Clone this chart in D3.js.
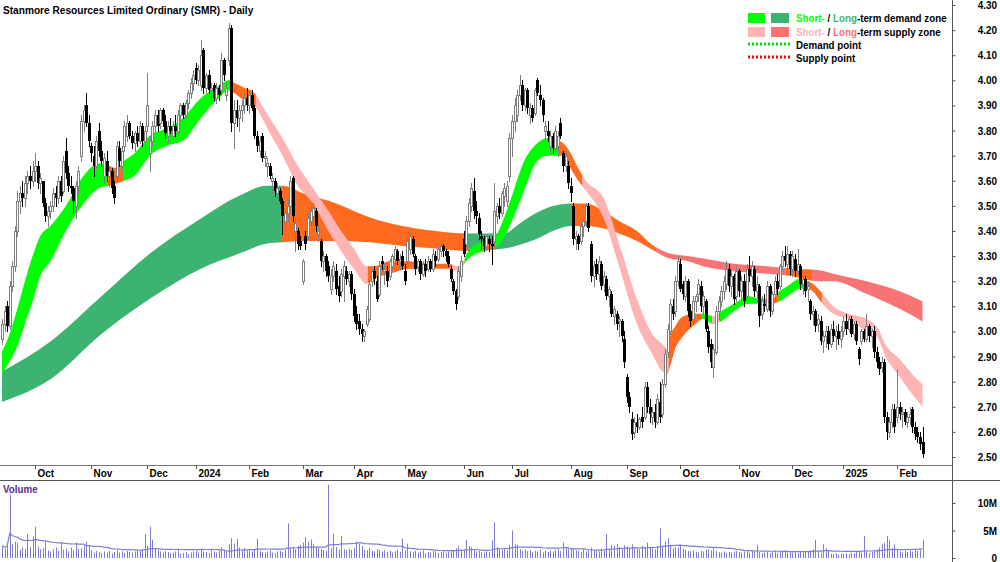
<!DOCTYPE html>
<html><head><meta charset="utf-8">
<script src="https://cdn.jsdelivr.net/npm/d3@7"></script>
<style>
html,body{margin:0;padding:0;background:#fff;}
svg{display:block;font-family:"Liberation Sans",Arial,Helvetica,sans-serif;}
</style></head><body>
<svg id="chart" width="1000" height="562"></svg>
<script>
// ---------------- data ----------------
const title = "Stanmore Resources Limited Ordinary (SMR) - Daily";
const firstDay = "2023-09-13", lastDay = "2025-02-17";
const holidays = ["2023-12-25","2023-12-26","2024-01-01","2024-01-26","2024-03-29","2024-04-01","2024-04-25","2024-06-10","2024-12-25","2024-12-26","2025-01-01","2025-01-27"];
const monthLabels = ["Oct","Nov","Dec","2024","Feb","Mar","Apr","May","Jun","Jul","Aug","Sep","Oct","Nov","Dec","2025","Feb"];
const priceTicks = [2.5,2.6,2.7,2.8,2.9,3.0,3.1,3.2,3.3,3.4,3.5,3.6,3.7,3.8,3.9,4.0,4.1,4.2,4.3];
const volumeTicks = [0,5,10];
const volumeTickLabels = ["0","5M","10M"];
const legendRows = [
  [["Short-","stDemand"],[" / ","text"],["Long","ltDemand"],["-term demand zone","text"]],
  [["Short-","stSupply"],[" / ","text"],["Long","ltSupplyText"],["-term supply zone","text"]],
  [["Demand point","text"]],
  [["Supply point","text"]]
];

const opens = [
2.97,3.03,3.10,3.02,3.18,3.26,3.40,3.52,3.55,3.53,3.59,3.62,3.60,
3.64,3.66,3.59,3.60,3.51,3.46,3.48,3.50,3.55,3.53,3.60,3.56,3.72,3.63,3.58,3.57,3.50,3.58,3.70,3.84,3.90,3.83,
3.74,3.70,3.66,3.80,3.72,3.62,3.68,3.62,3.64,3.58,3.62,3.73,3.66,3.74,3.78,3.83,3.78,3.75,3.79,3.76,3.82,3.76,
3.82,3.71,3.76,3.82,3.86,3.83,3.88,3.84,3.78,3.82,3.78,3.82,3.80,3.86,3.90,3.86,3.91,3.95,3.99,
4.05,4.00,3.98,4.12,3.97,4.02,3.96,3.98,3.93,3.97,3.96,4.08,3.94,4.08,4.21,3.83,3.88,3.85,3.88,3.90,3.93,
3.90,3.94,3.89,3.78,3.72,3.78,3.69,3.66,3.66,3.60,3.60,3.55,3.56,3.52,3.44,3.47,3.50,3.61,3.40,3.40,3.36,
3.20,3.38,3.38,3.44,3.46,3.48,3.39,3.36,3.28,3.30,3.26,3.17,3.22,3.24,3.18,3.16,3.22,3.24,3.20,3.23,
3.15,3.07,3.04,3.01,2.98,3.03,3.05,3.20,3.24,3.20,3.15,3.28,3.24,3.24,3.22,3.26,3.29,3.32,3.28,3.30,
3.24,3.28,3.33,3.37,3.30,3.26,3.28,3.23,3.27,3.25,3.28,3.25,3.30,3.29,3.32,3.34,3.32,3.30,3.25,3.20,3.16,3.14,3.22,
3.37,3.35,3.44,3.50,3.56,3.48,3.45,3.38,3.37,3.34,3.37,3.35,3.36,3.46,3.50,3.47,3.54,3.52,3.62,
3.77,3.84,3.86,3.94,3.98,3.90,3.96,3.86,3.89,3.87,4.00,3.94,3.92,3.80,3.80,3.74,3.78,3.73,3.74,3.83,3.71,3.66,3.66,
3.58,3.50,3.37,3.38,3.36,3.42,3.44,3.50,3.35,3.22,3.27,3.23,3.27,3.19,3.21,3.14,3.15,3.06,3.07,3.04,3.04,2.97,
2.82,2.74,2.65,2.60,2.64,2.62,2.66,2.66,2.78,2.70,2.66,2.68,2.64,2.72,2.67,2.79,2.92,3.00,3.10,3.08,3.20,
3.27,3.19,3.14,3.20,3.08,3.05,3.12,3.15,3.18,3.10,3.12,3.00,2.95,2.86,2.92,3.08,3.12,3.16,3.19,3.25,3.18,3.22,3.14,
3.24,3.16,3.20,3.14,3.25,3.22,3.25,3.16,3.18,3.07,3.11,3.09,3.18,3.08,3.15,3.20,3.18,3.26,3.30,3.27,3.31,
3.25,3.29,3.24,3.26,3.19,3.21,3.17,3.12,3.07,3.08,3.03,3.04,2.96,2.98,3.00,2.95,3.01,2.98,3.00,2.97,
3.00,3.04,3.01,3.05,2.99,3.03,2.93,2.96,3.00,2.97,3.02,2.98,3.00,2.92,2.88,2.86,2.88,2.66,2.60,2.64,2.69,
2.66,2.70,2.67,2.68,2.64,2.66,2.69,2.62,2.60,2.58,2.56];
const highs = [
3.05,3.10,3.12,3.20,3.28,3.42,3.56,3.58,3.60,3.62,3.64,3.66,3.68,
3.71,3.68,3.63,3.60,3.53,3.50,3.52,3.57,3.58,3.62,3.62,3.70,3.77,3.66,3.62,3.58,3.60,3.66,3.86,3.90,3.95,3.86,
3.75,3.74,3.78,3.83,3.76,3.71,3.72,3.66,3.65,3.60,3.76,3.76,3.74,3.84,3.86,3.84,3.80,3.80,3.82,3.84,3.83,3.82,
4.03,3.78,3.84,3.88,3.88,3.89,3.89,3.86,3.84,3.85,3.84,3.86,3.88,3.91,3.91,3.92,3.96,4.01,4.04,
4.07,4.06,4.16,4.13,4.03,4.04,3.99,3.99,3.99,3.98,4.11,4.09,3.99,4.23,4.22,3.92,3.92,3.90,3.92,3.95,3.97,
3.96,3.96,3.90,3.80,3.78,3.79,3.72,3.69,3.67,3.63,3.61,3.59,3.57,3.53,3.49,3.53,3.62,3.62,3.45,3.41,3.38,
3.29,3.40,3.47,3.50,3.51,3.49,3.42,3.37,3.32,3.31,3.28,3.25,3.28,3.27,3.22,3.25,3.28,3.26,3.24,3.24,
3.17,3.10,3.07,3.03,3.01,3.10,3.21,3.25,3.26,3.22,3.28,3.30,3.27,3.26,3.29,3.31,3.34,3.33,3.31,3.32,
3.27,3.38,3.39,3.38,3.31,3.29,3.29,3.28,3.29,3.30,3.29,3.33,3.32,3.34,3.35,3.35,3.33,3.32,3.26,3.21,3.17,3.26,3.30,
3.40,3.46,3.53,3.59,3.61,3.52,3.47,3.40,3.38,3.39,3.38,3.38,3.59,3.51,3.53,3.56,3.59,3.60,3.79,
3.86,3.93,3.96,4.02,4.00,3.97,3.97,3.91,3.90,3.97,4.01,3.98,3.93,3.84,3.84,3.80,3.79,3.82,3.80,3.85,3.72,3.72,3.68,
3.61,3.51,3.40,3.39,3.43,3.45,3.51,3.51,3.36,3.28,3.29,3.30,3.28,3.24,3.22,3.18,3.16,3.10,3.08,3.06,3.05,3.00,
2.83,2.76,2.68,2.66,2.67,2.66,2.70,2.80,2.80,2.73,2.70,2.71,2.75,2.80,2.81,2.93,3.03,3.13,3.13,3.22,3.30,
3.29,3.20,3.22,3.21,3.11,3.14,3.15,3.21,3.20,3.16,3.13,3.02,2.97,2.95,3.10,3.14,3.18,3.22,3.28,3.27,3.24,3.23,3.26,
3.25,3.22,3.23,3.27,3.30,3.28,3.26,3.22,3.19,3.14,3.15,3.20,3.19,3.16,3.22,3.23,3.27,3.32,3.34,3.34,3.32,
3.32,3.31,3.33,3.27,3.22,3.22,3.20,3.13,3.10,3.09,3.07,3.06,3.00,3.02,3.02,3.03,3.04,3.02,3.03,3.02,
3.06,3.07,3.06,3.06,3.04,3.04,2.94,3.01,3.01,3.07,3.03,3.01,3.02,2.94,2.90,2.90,2.89,2.68,2.66,2.71,2.71,
2.85,2.72,2.70,2.69,2.68,2.70,2.70,2.64,2.62,2.60,2.62];
const lows = [
2.95,3.00,3.00,3.01,3.16,3.24,3.38,3.47,3.50,3.50,3.55,3.57,3.58,
3.60,3.57,3.55,3.50,3.44,3.42,3.45,3.48,3.50,3.51,3.52,3.55,3.61,3.56,3.55,3.47,3.45,3.55,3.68,3.80,3.82,3.74,
3.68,3.62,3.65,3.70,3.66,3.59,3.60,3.58,3.55,3.51,3.60,3.66,3.64,3.72,3.76,3.77,3.73,3.72,3.74,3.75,3.74,3.72,
3.80,3.64,3.74,3.79,3.80,3.81,3.82,3.77,3.75,3.79,3.75,3.78,3.79,3.84,3.85,3.85,3.89,3.93,3.96,
3.99,3.98,3.96,3.95,3.95,3.95,3.92,3.92,3.91,3.92,3.94,4.00,3.92,4.06,3.80,3.73,3.82,3.80,3.84,3.87,3.88,
3.87,3.88,3.77,3.72,3.70,3.68,3.66,3.62,3.61,3.55,3.54,3.53,3.51,3.39,3.41,3.44,3.48,3.44,3.32,3.33,3.33,
3.19,3.33,3.37,3.42,3.44,3.40,3.36,3.26,3.24,3.22,3.20,3.15,3.20,3.15,3.12,3.14,3.12,3.19,3.18,3.13,
3.04,3.01,2.99,2.96,2.96,3.02,3.04,3.18,3.19,3.12,3.14,3.25,3.19,3.18,3.21,3.25,3.27,3.27,3.25,3.25,
3.19,3.27,3.31,3.30,3.23,3.24,3.21,3.22,3.22,3.24,3.24,3.24,3.26,3.28,3.30,3.30,3.28,3.26,3.20,3.15,3.09,3.13,3.20,
3.30,3.34,3.42,3.48,3.45,3.43,3.37,3.33,3.32,3.33,3.32,3.27,3.34,3.43,3.45,3.46,3.50,3.50,3.60,
3.70,3.80,3.84,3.92,3.88,3.88,3.87,3.83,3.84,3.86,3.94,3.90,3.84,3.74,3.76,3.71,3.71,3.71,3.70,3.77,3.64,3.64,3.57,
3.52,3.35,3.33,3.33,3.35,3.38,3.42,3.40,3.20,3.18,3.21,3.20,3.17,3.16,3.13,3.10,3.06,3.03,3.01,2.98,2.96,2.86,
2.72,2.68,2.57,2.58,2.60,2.61,2.62,2.65,2.68,2.64,2.63,2.62,2.63,2.64,2.66,2.78,2.90,2.99,3.05,3.06,3.18,
3.16,3.13,3.12,3.06,3.02,3.03,3.08,3.12,3.08,3.07,3.00,2.92,2.86,2.82,2.91,3.05,3.10,3.13,3.17,3.16,3.14,3.11,3.12,
3.14,3.13,3.10,3.13,3.20,3.18,3.14,3.12,3.02,3.05,3.08,3.08,3.06,3.07,3.13,3.15,3.17,3.24,3.26,3.25,3.23,
3.22,3.22,3.23,3.17,3.15,3.14,3.12,3.05,3.03,3.00,3.00,2.95,2.92,2.94,2.93,2.94,2.96,2.93,2.95,2.94,
2.98,2.99,3.00,2.98,2.97,2.95,2.87,2.95,2.96,2.96,2.96,2.94,2.90,2.86,2.83,2.84,2.64,2.57,2.58,2.62,2.60,
2.64,2.65,2.62,2.63,2.62,2.63,2.60,2.57,2.56,2.53,2.50];
const closes = [
3.03,3.08,3.02,3.18,3.26,3.40,3.52,3.55,3.53,3.59,3.62,3.60,3.64,
3.66,3.59,3.61,3.51,3.46,3.48,3.50,3.55,3.53,3.60,3.54,3.68,3.63,3.58,3.57,3.52,3.58,3.64,3.84,3.88,3.83,3.76,
3.71,3.66,3.76,3.72,3.68,3.69,3.62,3.64,3.57,3.53,3.74,3.68,3.72,3.82,3.83,3.78,3.75,3.79,3.76,3.82,3.76,3.80,
3.90,3.76,3.82,3.86,3.82,3.88,3.84,3.79,3.82,3.80,3.82,3.80,3.86,3.90,3.86,3.91,3.95,3.99,4.02,
4.00,4.04,4.10,3.97,4.02,3.96,3.97,3.93,3.97,3.94,4.08,4.02,3.97,4.21,3.83,3.88,3.85,3.88,3.90,3.93,3.90,
3.94,3.89,3.78,3.74,3.76,3.69,3.70,3.67,3.62,3.61,3.56,3.57,3.52,3.46,3.47,3.50,3.60,3.46,3.43,3.35,3.34,
3.28,3.35,3.45,3.48,3.49,3.42,3.40,3.28,3.30,3.24,3.22,3.22,3.26,3.17,3.14,3.23,3.26,3.21,3.23,3.15,
3.06,3.03,3.01,2.99,3.00,3.09,3.19,3.24,3.21,3.13,3.26,3.27,3.25,3.20,3.28,3.30,3.33,3.28,3.29,3.26,
3.20,3.36,3.38,3.31,3.25,3.28,3.23,3.27,3.24,3.28,3.25,3.31,3.28,3.33,3.34,3.32,3.30,3.27,3.21,3.16,3.11,3.24,3.28,
3.31,3.44,3.51,3.57,3.48,3.46,3.39,3.37,3.34,3.38,3.35,3.34,3.48,3.50,3.47,3.55,3.57,3.58,3.77,
3.84,3.90,3.94,3.98,3.90,3.96,3.89,3.89,3.85,3.96,3.95,3.92,3.86,3.82,3.78,3.78,3.73,3.80,3.78,3.78,3.66,3.70,3.59,
3.55,3.37,3.38,3.35,3.42,3.44,3.50,3.41,3.22,3.26,3.23,3.28,3.18,3.22,3.14,3.17,3.07,3.09,3.03,3.05,2.98,2.88,
2.74,2.70,2.59,2.64,2.62,2.65,2.64,2.78,2.70,2.67,2.68,2.64,2.73,2.66,2.79,2.91,3.01,3.11,3.07,3.20,3.28,
3.17,3.15,3.20,3.08,3.04,3.12,3.14,3.19,3.10,3.14,3.01,2.94,2.88,2.93,3.08,3.12,3.16,3.20,3.25,3.18,3.22,3.13,3.24,
3.16,3.20,3.12,3.25,3.22,3.26,3.16,3.19,3.06,3.12,3.10,3.18,3.08,3.15,3.20,3.17,3.26,3.30,3.28,3.31,3.25,
3.30,3.24,3.27,3.19,3.21,3.16,3.18,3.07,3.08,3.02,3.05,2.96,2.98,3.00,2.95,3.01,2.98,3.00,2.97,3.00,
3.04,3.01,3.05,2.99,3.03,2.96,2.89,3.00,2.97,3.02,2.98,3.00,2.92,2.88,2.85,2.88,2.66,2.60,2.64,2.69,2.62,
2.70,2.67,2.68,2.64,2.66,2.67,2.62,2.59,2.58,2.55,2.51];
// volume, millions of shares
const volumes = [
2.2,1.8,2.4,11.5,2.6,3.0,2.8,1.5,1.9,1.7,4.4,2.0,3.9,
5.7,2.1,1.6,1.8,3.0,1.4,1.2,1.6,1.9,1.3,2.8,1.5,1.7,1.2,1.9,1.4,2.8,1.6,1.8,2.3,3.0,2.4,
1.4,1.0,1.3,1.1,0.9,1.2,1.0,1.3,0.8,1.1,1.4,1.0,1.2,0.9,1.3,1.1,1.0,1.2,1.5,1.3,1.6,4.4,
2.2,5.7,3.3,1.8,1.5,1.2,1.0,1.3,1.1,0.9,1.0,1.2,1.4,0.8,0.9,1.1,0.7,1.0,1.2,
1.3,1.0,1.6,1.2,1.1,0.9,1.4,1.2,1.0,1.3,2.0,1.5,1.2,2.5,3.6,2.6,3.5,1.9,1.5,1.8,1.4,
1.4,1.2,1.6,3.5,1.3,1.1,1.0,1.2,1.4,1.0,0.9,1.2,1.3,1.1,1.5,6.3,1.8,2.0,1.6,2.2,2.4,
2.8,3.8,3.0,3.4,2.6,2.0,1.8,1.6,1.5,1.3,13.3,1.8,4.4,2.0,1.5,4.0,1.6,1.4,1.7,1.5,
1.8,3.0,2.6,2.2,1.5,1.4,1.8,1.3,1.2,1.6,1.5,1.2,1.4,1.1,1.3,1.0,1.2,1.5,1.1,3.5,
1.4,2.6,1.2,1.1,1.3,1.0,1.2,1.4,0.9,1.1,1.0,1.3,1.2,0.9,1.1,1.4,1.0,1.2,1.5,1.3,1.8,2.2,1.6,
1.5,3.3,2.2,2.0,1.4,1.2,1.3,1.1,1.0,1.2,1.1,3.2,6.5,2.0,1.5,1.4,1.6,1.3,2.4,
5.0,2.5,2.4,1.6,1.3,1.5,1.2,1.4,1.1,1.3,1.2,1.5,1.0,1.3,1.1,1.4,1.2,1.5,1.6,1.3,2.8,1.9,1.6,
1.8,1.6,1.4,1.3,1.1,1.6,1.2,1.4,1.9,1.5,1.3,1.2,1.7,1.4,4.4,1.6,2.4,2.2,2.5,2.0,1.8,2.3,
2.1,1.8,2.5,2.0,1.7,1.6,2.2,1.9,2.8,2.0,1.7,1.6,2.2,5.4,2.0,3.0,3.6,2.4,1.8,2.0,1.9,
2.4,1.7,1.5,1.3,1.2,1.4,1.1,1.0,1.3,1.2,1.5,1.6,1.4,1.8,1.3,1.1,1.0,1.2,0.9,1.1,1.0,1.2,1.3,
1.1,1.0,1.2,1.4,1.0,1.3,1.2,2.4,1.1,0.9,1.0,1.2,0.9,1.1,1.3,1.0,1.2,1.1,1.4,1.0,1.2,
1.0,1.2,0.9,1.1,1.0,1.3,1.1,1.4,1.6,3.3,1.2,1.0,2.5,1.8,1.3,0.8,0.7,0.9,0.6,0.8,
0.8,0.9,0.7,1.0,0.9,1.1,1.3,1.0,4.0,1.2,0.9,1.1,1.3,1.6,1.9,2.5,2.8,4.0,3.2,1.8,2.5,
1.5,1.2,1.0,1.3,1.1,1.4,1.2,1.6,1.3,1.5,3.3];

// Short-term zone edges, sampled at trading-day indices
const stIdx  = [0,3,6,9,12,15,19,25,32,38,42,45,48,52,58,65,71,78,84,89,91,95,99,102,105,110,116,122,128,133,138,143,146,152,160,168,175,179,183,189,193,196,200,204,210,214,218,220,223,226,229,236,242,249,255,259,261,262,264,267,272,275,279,282,287,293,297,302,305,308,313,316,318,321,326,332,339,343,347,352,357,361];
const stHigh = [2.92,2.99,3.09,3.20,3.30,3.38,3.42,3.50,3.62,3.67,3.66,3.65,3.68,3.71,3.78,3.81,3.85,3.93,3.97,4.00,3.99,3.97,3.95,3.90,3.85,3.77,3.66,3.57,3.48,3.40,3.33,3.26,3.26,3.28,3.28,3.27,3.27,3.26,3.32,3.36,3.37,3.43,3.54,3.66,3.75,3.77,3.76,3.75,3.71,3.65,3.60,3.53,3.35,3.13,2.99,2.95,2.93,2.98,3.02,3.06,3.07,3.07,3.06,3.08,3.11,3.14,3.13,3.13,3.16,3.18,3.21,3.20,3.19,3.16,3.10,3.07,3.05,3.02,2.94,2.89,2.83,2.79];
const stLow  = [2.83,2.88,2.94,3.03,3.12,3.22,3.28,3.40,3.51,3.57,3.58,3.59,3.60,3.62,3.70,3.74,3.76,3.85,3.92,3.96,3.95,3.92,3.90,3.85,3.79,3.70,3.58,3.51,3.40,3.32,3.25,3.19,3.21,3.23,3.25,3.25,3.25,3.24,3.29,3.32,3.33,3.36,3.44,3.54,3.68,3.70,3.70,3.70,3.65,3.60,3.56,3.45,3.26,3.03,2.91,2.84,2.83,2.86,2.93,2.98,3.03,3.05,3.03,3.04,3.08,3.11,3.11,3.11,3.12,3.14,3.17,3.17,3.16,3.12,3.07,3.05,3.00,2.98,2.89,2.82,2.75,2.70];
const stStateStart = [0,42,48,90,100,144,177,182,189,194,219,228,262,275,279,282,298,305,316,322];
const stStateKind  = ["demand","neutral","demand","neutral","supply","neutral","supply","demand","neutral","demand","neutral","supply","neutral","demand","supply","demand","neutral","demand","neutral","supply"];

// Long-term zone edges
const ltIdx  = [0,19,39,58,78,93,104,110,118,131,144,157,170,183,197,203,210,216,223,229,236,242,249,255,262,269,275,287,300,310,320,326,339,352,361];
const ltHigh = [2.84,2.96,3.14,3.31,3.45,3.54,3.58,3.58,3.55,3.51,3.455,3.42,3.40,3.39,3.39,3.43,3.475,3.50,3.51,3.51,3.48,3.44,3.40,3.345,3.31,3.30,3.29,3.27,3.26,3.25,3.245,3.23,3.20,3.16,3.12];
const ltLow  = [2.72,2.81,2.99,3.13,3.25,3.31,3.35,3.355,3.36,3.36,3.355,3.34,3.33,3.32,3.33,3.345,3.37,3.40,3.42,3.42,3.41,3.39,3.36,3.325,3.29,3.28,3.26,3.24,3.23,3.22,3.20,3.20,3.15,3.09,3.04];
const ltStateStart = [0,110,183,224,257,308,318];
const ltStateKind  = ["demand","neutral","demand","neutral","supply","neutral","supply"];

// ---------------- drawing ----------------
const parse = d3.timeParse("%Y-%m-%d"), fmt = d3.timeFormat("%Y-%m-%d");
const dates = d3.timeDay.range(parse(firstDay), d3.timeDay.offset(parse(lastDay), 1))
  .filter(d => d.getDay() !== 0 && d.getDay() !== 6 && !holidays.includes(fmt(d)));
const n = dates.length;

const svg = d3.select("#chart");
const defs = svg.append("defs");
const FONT = 'bold 11px "Liberation Sans", Arial, sans-serif';
const x = d3.scaleLinear().domain([0, n - 1]).range([2, 922.5]);
const step = x(1) - x(0);
const y = d3.scaleLinear().domain([2.5, 4.3]).range([457, 5]);
const yv = d3.scaleLinear().domain([0, 10]).range([558, 503]);

defs.append("clipPath").attr("id", "pclip").append("rect").attr("x", 0).attr("y", 0).attr("width", 952).attr("height", 465);

const colors = {
  stDemand: "#00ff00", ltDemand: "#3cb371", stSupply: "#ffb4b4",
  ltSupply: "#f87474", ltSupplyText: "#ff7070", neutral: "#ff6a1f", text: "#000"
};
const stColors = {demand: colors.stDemand, supply: colors.stSupply, neutral: colors.neutral};
const ltColors = {demand: colors.ltDemand, supply: colors.ltSupply, neutral: colors.neutral};

const pg = svg.append("g").attr("clip-path", "url(#pclip)");

function drawBand(name, idx, hi, lo, starts, kinds, cmap) {
  const pts = idx.map((d, k) => ({i: d, h: hi[k], l: lo[k]}));
  const area = d3.area().x(d => x(d.i)).y0(d => y(d.l)).y1(d => y(d.h)).curve(d3.curveMonotoneX);
  const dstr = area(pts);
  starts.forEach((s, k) => {
    const last = k === starts.length - 1;
    const x0 = k === 0 ? 0 : x(s) - step / 2;
    const x1 = last ? x(n - 1) + 3 : x(starts[k + 1]) - step / 2 + 0.6;
    const id = name + "c" + k;
    defs.append("clipPath").attr("id", id).append("rect")
      .attr("x", x0).attr("y", 0).attr("width", x1 - x0).attr("height", 470);
    pg.append("path").attr("d", dstr).attr("fill", cmap[kinds[k]]).attr("clip-path", `url(#${id})`);
  });
}
drawBand("lt", ltIdx, ltHigh, ltLow, ltStateStart, ltStateKind, ltColors);
drawBand("st", stIdx, stHigh, stLow, stStateStart, stStateKind, stColors);

// candles
const cg = pg.append("g");
d3.range(n).forEach(i => {
  const o = opens[i], h = highs[i], l = lows[i], c = closes[i];
  const up = c >= o;
  const cx = Math.round(x(i));
  cg.append("line").attr("x1", cx + 0.5).attr("x2", cx + 0.5)
    .attr("y1", Math.round(y(h))).attr("y2", Math.round(y(l)) + 1)
    .attr("stroke", up ? "#7f7f7f" : "#000").attr("stroke-width", 1);
  const top = Math.round(y(Math.max(o, c))), bot = Math.round(y(Math.min(o, c)));
  const hh = Math.max(1, bot - top);
  if (up) {
    cg.append("rect").attr("x", cx - 0.5).attr("y", top + 0.5).attr("width", 2).attr("height", hh)
      .attr("fill", "#fff").attr("stroke", "#7f7f7f").attr("stroke-width", 1);
  } else {
    cg.append("rect").attr("x", cx - 1).attr("y", top).attr("width", 3).attr("height", hh).attr("fill", "#000");
  }
});

// frame lines
svg.append("line").attr("x1", 0).attr("x2", 952).attr("y1", 465.5).attr("y2", 465.5).attr("stroke", "#777");
svg.append("line").attr("x1", 0).attr("x2", 1000).attr("y1", 480.5).attr("y2", 480.5).attr("stroke", "#555");
svg.append("line").attr("x1", 952.5).attr("x2", 952.5).attr("y1", 0).attr("y2", 562).attr("stroke", "#555");

function condense(sel, f) {
  sel.each(function () {
    const L = this.getComputedTextLength();
    this.setAttribute("textLength", (L * f).toFixed(1));
    this.setAttribute("lengthAdjust", "spacingAndGlyphs");
  });
}

// price axis
const pAxis = svg.append("g").attr("transform", "translate(952.5,0)")
  .call(d3.axisRight(y).tickValues(priceTicks).tickSize(3).tickFormat(d3.format(".2f")));
pAxis.select(".domain").remove();
pAxis.selectAll(".tick line").attr("stroke", "#555");
pAxis.selectAll(".tick text").attr("x", 44.5).attr("text-anchor", "end").style("font", FONT).attr("fill", "#000");
condense(pAxis.selectAll(".tick text"), 0.9);

// volume axis
const vAxis = svg.append("g").attr("transform", "translate(952.5,0)")
  .call(d3.axisRight(yv).tickValues(volumeTicks).tickSize(3).tickFormat((d, k) => volumeTickLabels[k]));
vAxis.select(".domain").remove();
vAxis.selectAll(".tick line").attr("stroke", "#555");
vAxis.selectAll(".tick text").attr("x", 44.5).attr("text-anchor", "end").style("font", FONT).attr("fill", "#000");
condense(vAxis.selectAll(".tick text"), 0.9);

// month ticks
const monthStarts = d3.range(1, n).filter(i => dates[i].getMonth() !== dates[i - 1].getMonth());
const mg = svg.append("g");
monthStarts.forEach((i, k) => {
  const mx = Math.round(x(i)) + 0.5;
  mg.append("line").attr("x1", mx).attr("x2", mx).attr("y1", 465).attr("y2", 469).attr("stroke", "#555");
  mg.append("text").attr("x", mx + 2).attr("y", 477).text(monthLabels[k]).style("font", FONT).attr("fill", "#000");
});
condense(mg.selectAll("text"), 0.9);

// volume
const vg = svg.append("g");
const volColor = "#7e7ed8";
d3.range(n).forEach(i => {
  const cx = Math.round(x(i)) + 0.5;
  vg.append("line").attr("x1", cx).attr("x2", cx).attr("y1", yv(0)).attr("y2", yv(volumes[i]))
    .attr("stroke", volColor).attr("stroke-width", 1);
});
const maWin = 30;
const ma = d3.range(n).map(i => d3.mean(volumes.slice(Math.max(0, i - maWin + 1), i + 1)));
vg.append("path").attr("d", d3.line().x((d, i) => x(i)).y(d => yv(d))(ma))
  .attr("fill", "none").attr("stroke", volColor).attr("stroke-width", 1.2);

const vl = svg.append("text").attr("x", 3).attr("y", 493).text("Volume").style("font", FONT).attr("fill", "#5a2a8c");
condense(vl, 0.89);

// title
const tt = svg.append("text").attr("x", 3).attr("y", 14).text(title).style("font", FONT).attr("fill", "#000");
condense(tt, 0.92);

// legend
const lg = svg.append("g");
lg.append("rect").attr("x", 748).attr("y", 13).attr("width", 17).attr("height", 10).attr("fill", colors.stDemand);
lg.append("rect").attr("x", 771).attr("y", 13).attr("width", 18).attr("height", 10).attr("fill", colors.ltDemand);
lg.append("rect").attr("x", 748).attr("y", 27).attr("width", 17).attr("height", 10).attr("fill", colors.stSupply);
lg.append("rect").attr("x", 771).attr("y", 27).attr("width", 18).attr("height", 10).attr("fill", colors.ltSupplyText);
lg.append("line").attr("x1", 748).attr("x2", 790).attr("y1", 44).attr("y2", 44)
  .attr("stroke", "#00dd00").attr("stroke-width", 3).attr("stroke-dasharray", "2,2");
lg.append("line").attr("x1", 748).attr("x2", 790).attr("y1", 57).attr("y2", 57)
  .attr("stroke", "#ff0000").attr("stroke-width", 3).attr("stroke-dasharray", "2,2");
const rowY = [22, 36, 49, 62];
legendRows.forEach((row, r) => {
  const rg = lg.append("g").attr("transform", `translate(796,${rowY[r]}) scale(0.89,1)`);
  const t = rg.append("text").attr("x", 0).attr("y", 0).style("font", FONT);
  row.forEach(([s, c]) => t.append("tspan").attr("fill", colors[c]).text(s));
});
</script>
</body></html>
